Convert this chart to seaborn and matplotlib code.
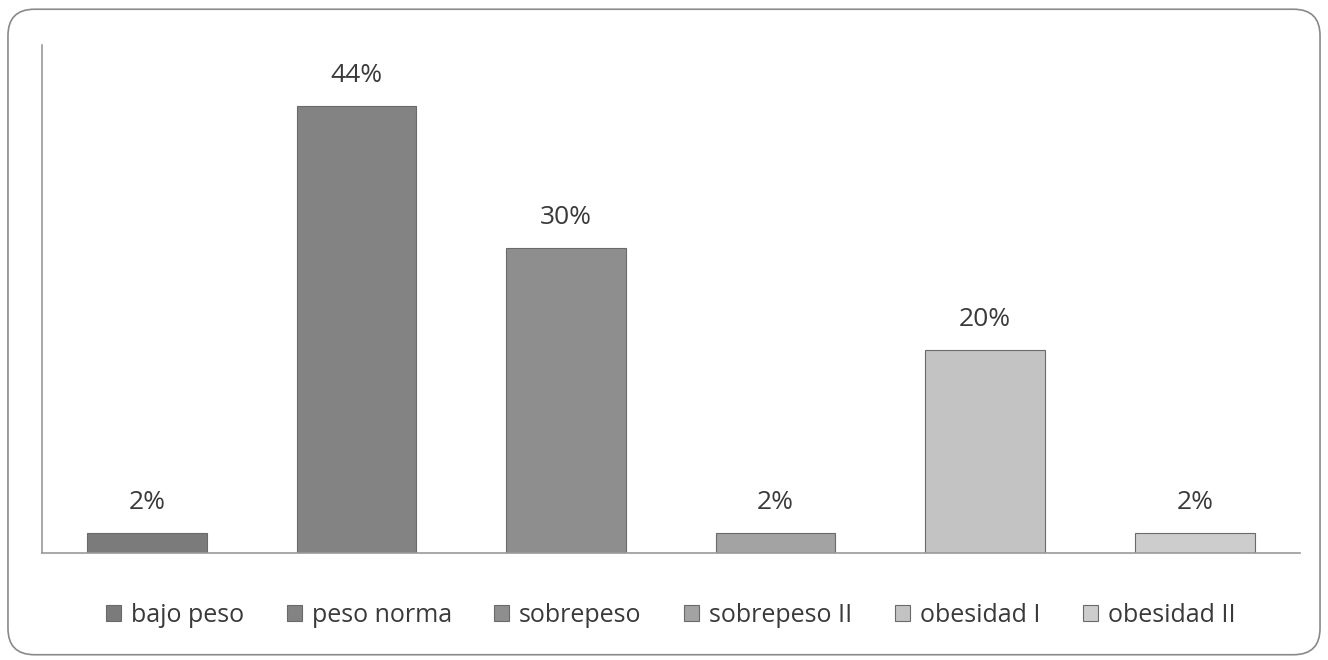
import matplotlib
matplotlib.use("Agg")
import matplotlib.pyplot as plt
import seaborn as sns
import pandas as pd
from matplotlib.patches import FancyBboxPatch

categories = ["bajo peso", "peso norma", "sobrepeso", "sobrepeso II", "obesidad I", "obesidad II"]
values = [2, 44, 30, 2, 20, 2]
labels = ["2%", "44%", "30%", "2%", "20%", "2%"]
colors = ["#7b7b7b", "#838383", "#8e8e8e", "#a3a3a3", "#c3c3c3", "#cdcdcd"]

sns.set_style("white")
plt.rcParams["font.family"] = ["Open Sans", "DejaVu Sans"]

df = pd.DataFrame({"cat": categories, "val": values})

fig = plt.figure(figsize=(13.28, 6.6), dpi=100)
ax = fig.add_axes([0.0316, 0.162, 0.947, 0.770])

sns.barplot(data=df, x="cat", y="val", hue="cat", order=categories, hue_order=categories,
            palette=dict(zip(categories, colors)), dodge=False, width=0.57,
            edgecolor="#6a6a6a", linewidth=0.8, legend=True, ax=ax)

ax.set_ylim(0, 50)
ax.set_xlim(-0.5, 5.5)
ax.set_xlabel("")
ax.set_ylabel("")
ax.set_xticks([])
ax.set_yticks([])
for s in ["top", "right"]:
    ax.spines[s].set_visible(False)
ax.spines["left"].set_color("#9a9a9a")
ax.spines["bottom"].set_color("#9a9a9a")
ax.spines["left"].set_linewidth(1.2)
ax.spines["bottom"].set_linewidth(1.2)

for i, (v, lab) in enumerate(zip(values, labels)):
    ax.annotate(lab, (i, v), xytext=(0, 22), textcoords="offset points",
                ha="center", va="center", fontsize=19, color="#3a3a3a")

handles, hl = ax.get_legend_handles_labels()
ax.legend(handles, hl, loc="center", bbox_to_anchor=(0.5, -0.122), ncol=6, frameon=False,
          fontsize=18, handlelength=0.6, handleheight=0.6, handletextpad=0.4,
          columnspacing=1.7, labelcolor="#3a3a3a")

border = FancyBboxPatch((0.006, 0.008), 0.988, 0.978, boxstyle="round,pad=0,rounding_size=0.02",
                        transform=fig.transFigure, fill=False, edgecolor="#8a8a8a",
                        linewidth=1.2, mutation_aspect=2.0)
fig.patches.append(border)

fig.savefig("out.png", dpi=100)
